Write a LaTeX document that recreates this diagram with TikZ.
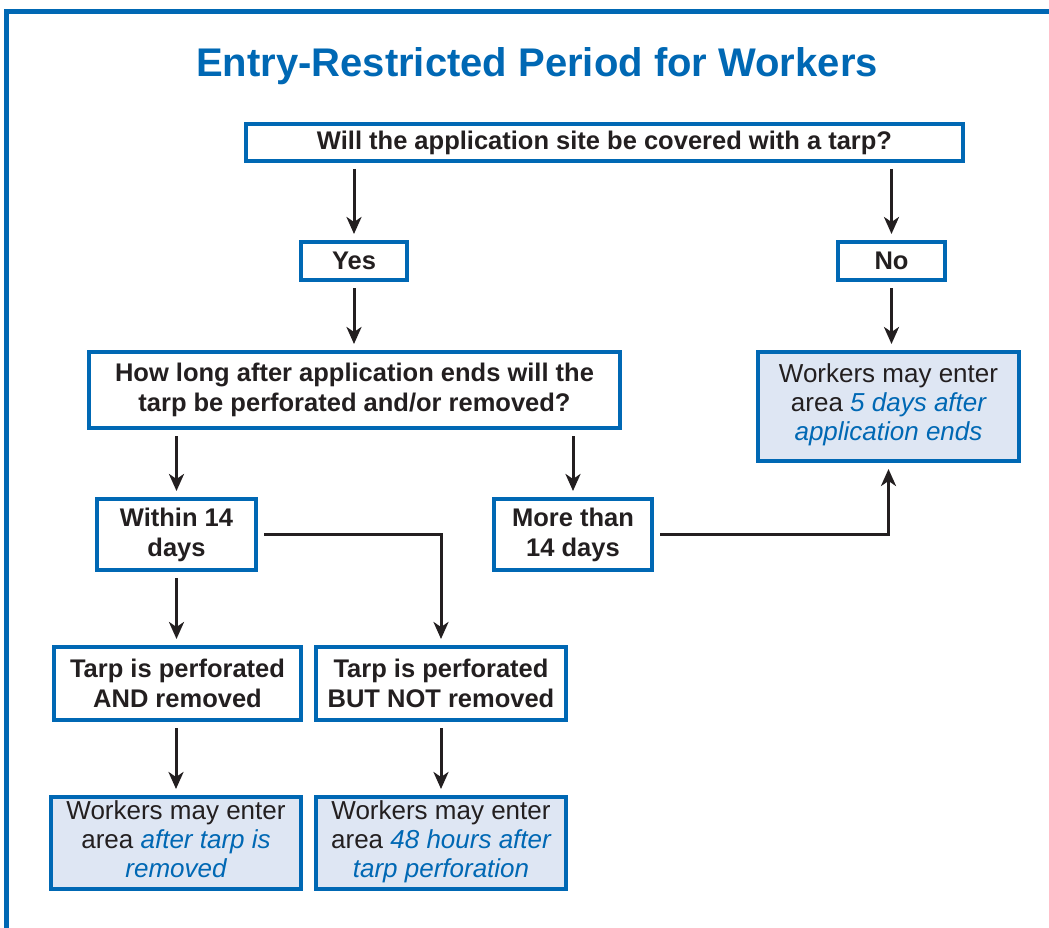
\documentclass[tikz,border=0pt]{standalone}
\usepackage{fontspec}
\setmainfont{Liberation Sans}
\usepackage{tikz}
\usepackage{xcolor}
\usetikzlibrary{arrows.meta}

\definecolor{epablue}{RGB}{0,104,180}
\definecolor{paleblue}{RGB}{222,230,243}
\definecolor{ink}{RGB}{35,31,32}
\newcommand{\hl}[1]{{\itshape\color{epablue}#1}}

\tikzset{
  box/.style={draw=epablue, line width=4pt, align=center, text=ink, inner sep=0pt,
    font=\bfseries\fontsize{25.5}{30}\selectfont},
  result/.style={box, fill=paleblue, font=\fontsize{26}{29}\selectfont},
  arr/.style={ink, line width=3pt, -{Stealth[length=17pt,width=15pt,inset=5pt]},
    shorten <=6pt, shorten >=6pt}
}

\begin{document}
\begin{tikzpicture}[x=1pt, y=-1pt]
    \useasboundingbox (0, 0) rectangle (1049, 928);
    \draw[epablue, line width=5pt] (6, 928)--(6, 12)--(1049, 12);
    \node(title) at (537, 66) {\color{epablue}\bfseries\fontsize{40}{40}\selectfont Entry-Restricted Period for Workers};

    \node[box, minimum width=717, minimum height=37](q1) at (604.5, 142.5) {Will the application site be covered with a tarp?};
    \node[box, minimum width=106, minimum height=38](yes) at (354, 261) {Yes};
    \node[box, minimum width=107, minimum height=38](no) at (891.5, 261) {No};
    \node[box, minimum width=531, minimum height=76](q2) at (354.5, 390) {How long after application ends will the\\tarp be perforated and/or removed?};
    \node[result, minimum width=261, minimum height=109](five) at (888.5, 406.5) {Workers may enter\\area \hl{5 days after}\\\hl{application ends}\strut};
    \node[box, minimum width=159, minimum height=71](within) at (176.5, 534.5) {Within 14\\days};
    \node[box, minimum width=158, minimum height=71](more) at (573, 534.5) {More than\\14 days};
    \node[box, minimum width=247, minimum height=73](and) at (177.5, 683.5) {Tarp is perforated\\AND removed};
    \node[box, minimum width=250, minimum height=73](butnot) at (441, 683.5) {Tarp is perforated\\BUT NOT removed};
    \node[result, minimum width=250, minimum height=92](removed) at (176, 843) {Workers may enter\\area \hl{after tarp is}\\\hl{removed}\strut};
    \node[result, minimum width=250, minimum height=92](hours) at (441, 843) {Workers may enter\\area \hl{48 hours after}\\\hl{tarp perforation}\strut};

    \draw[arr] (q1.south -| yes.north)--(yes.north);
    \draw[arr] (q1.south -| no.north)--(no.north);
    \draw[arr] (yes.south)--(yes.south |- q2.north);
    \draw[arr] (no.south)--(five.north -| no.south);
    \draw[arr] (q2.south -| within.north)--(within.north);
    \draw[arr] (q2.south -| more.north)--(more.north);
    \draw[arr] (within.south)--(within.south |- and.north);
    \draw[arr] (within.east) -| (butnot.north);
    \draw[arr] (more.east) -| (five.south);
    \draw[arr] (and.south -| removed.north)--(removed.north);
    \draw[arr] (butnot.south)--(hours.north);
  \end{tikzpicture}
\end{document}
